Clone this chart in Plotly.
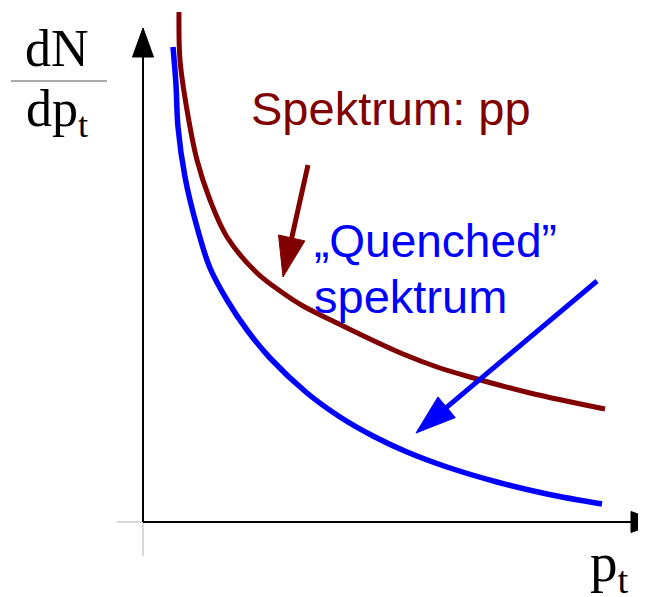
import numpy as np
import plotly.graph_objects as go

# ---- data (chart units: origin at the axis corner, 1 unit = 1 px) ----
pt_pp = [36, 37, 44, 54, 67, 84, 114, 140, 160, 194, 227, 260, 294, 327, 387, 462]
dndpt_pp = [510, 462, 412, 362, 322, 285, 249, 229, 216, 199, 183, 168, 155, 145, 129, 113]
pt_quenched = [30, 33, 35, 42, 54, 67, 84, 104, 127, 164, 197, 230, 264, 304, 354, 404, 459]
dndpt_quenched = [475, 437, 395, 345, 295, 254, 222, 192, 164, 129, 105, 86, 70, 55, 40, 28, 18]

# pointer arrows: tail -> tip
arrow_pp_tail = (165, 357)
arrow_pp_tip = (140, 245)
arrow_q_tail = (454, 241)
arrow_q_tip = (273, 89)

# axis arrow tips
x_axis_tip = (517, 0)
y_axis_tip = (0, 494)

label_pp = "Spektrum: pp"
label_q1 = "\u201eQuenched\u201d"
label_q2 = "spektrum"
label_y_num = "dN"
label_y_den = "dp<sub>t</sub>"
label_x = "p<sub>t</sub>"

RED = "#800000"
BLUE = "#0000FF"

fig = go.Figure()


def arrow(tail, tip, color, lw, head_len, head_w):
    tail = np.array(tail, float)
    tip = np.array(tip, float)
    d = tip - tail
    d /= np.linalg.norm(d)
    perp = np.array([-d[1], d[0]])
    base = tip - d * head_len
    shaft_end = base + d * 2
    fig.add_trace(go.Scatter(x=[tail[0], shaft_end[0]], y=[tail[1], shaft_end[1]],
                             mode="lines", line=dict(color=color, width=lw),
                             hoverinfo="skip", showlegend=False))
    p1 = base + perp * head_w / 2
    p2 = base - perp * head_w / 2
    fig.add_trace(go.Scatter(x=[tip[0], p1[0], p2[0], tip[0]], y=[tip[1], p1[1], p2[1], tip[1]],
                             mode="lines", fill="toself", fillcolor=color,
                             line=dict(color=color, width=1),
                             hoverinfo="skip", showlegend=False))


# grey crosshair at origin
fig.add_trace(go.Scatter(x=[-26, 0], y=[0, 0], mode="lines",
                         line=dict(color="#d9d9d9", width=2), hoverinfo="skip", showlegend=False))
fig.add_trace(go.Scatter(x=[0, 0], y=[0, -34], mode="lines",
                         line=dict(color="#d9d9d9", width=2), hoverinfo="skip", showlegend=False))

# axes with arrows
arrow((0, 0), y_axis_tip, "black", 2, 29, 21)
arrow((0, 0), x_axis_tip, "black", 2, 29, 21)

# curves
fig.add_trace(go.Scatter(x=pt_quenched, y=dndpt_quenched, mode="lines", line_shape="spline",
                         line=dict(color=BLUE, width=5.5), hoverinfo="skip", showlegend=False))
fig.add_trace(go.Scatter(x=pt_pp, y=dndpt_pp, mode="lines", line_shape="spline",
                         line=dict(color=RED, width=5), hoverinfo="skip", showlegend=False))

# pointer arrows
arrow(arrow_pp_tail, arrow_pp_tip, RED, 5, 40, 27)
arrow(arrow_q_tail, arrow_q_tip, BLUE, 5, 40, 27)

sans = "Liberation Sans, Arial, sans-serif"
serif = "Liberation Serif, Times New Roman, serif"

annotations = [
    dict(x=106, y=414, text=label_pp, xanchor="left", yanchor="middle",
         font=dict(family=sans, size=47, color=RED)),
    dict(x=169, y=281, text=label_q1, xanchor="left", yanchor="middle",
         font=dict(family=sans, size=46, color=BLUE)),
    dict(x=169, y=226, text=label_q2, xanchor="left", yanchor="middle",
         font=dict(family=sans, size=47, color=BLUE)),
    dict(x=-86, y=474, text=label_y_num, xanchor="center", yanchor="middle",
         font=dict(family=serif, size=52, color="black")),
    dict(x=-86, y=410, text=label_y_den, xanchor="center", yanchor="middle",
         font=dict(family=serif, size=52, color="black")),
    dict(x=466, y=-44, text=label_x, xanchor="center", yanchor="middle",
         font=dict(family=serif, size=55, color="black")),
]
for a in annotations:
    a.update(xref="x", yref="y", showarrow=False)

# the page adds an 8 px body margin, so the figure is 8 px smaller
fig.update_layout(
    width=638, height=589,
    margin=dict(l=0, r=0, t=0, b=0),
    paper_bgcolor="white", plot_bgcolor="white",
    xaxis=dict(range=[-135, 503], visible=False, fixedrange=True),
    yaxis=dict(range=[-75, 514], visible=False, fixedrange=True),
    annotations=annotations,
    shapes=[dict(type="line", xref="x", yref="y", x0=-132, x1=-36, y0=441, y1=441,
                 line=dict(color="#aaaaaa", width=2))],
    showlegend=False,
)

fig.write_html("out.html")
